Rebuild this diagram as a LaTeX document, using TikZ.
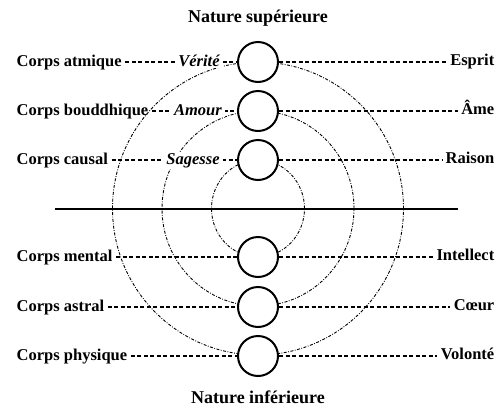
\documentclass[tikz,border=0pt]{standalone}
\usepackage{fontspec}
\setmainfont{Liberation Serif}
\usetikzlibrary{backgrounds}
\begin{document}
\begin{tikzpicture}[x=1pt,y=-1pt,
  ball/.style={circle, draw, line width=2pt, fill=white, minimum size=40pt, inner sep=0pt},
  lab/.style={font=\fontsize{16.5}{18}\selectfont\bfseries, inner xsep=3.5pt, inner ysep=1.5pt},
  quality/.style={font=\fontsize{16.5}{18}\selectfont\bfseries\itshape, fill=white, inner xsep=3pt, inner ysep=1.5pt, anchor=mid},
  link/.style={dash pattern=on 4pt off 2.5pt, line width=1.3pt},
  orbit/.style={line width=0.9pt, dash pattern=on 3pt off 1.5pt on 0.8pt off 1.5pt},
  divider/.style={line width=2.5pt},
  heading/.style={font=\fontsize{18}{20}\selectfont\bfseries, anchor=mid}]
\useasboundingbox (0,0) rectangle (499,413);
\coordinate (O) at (258,208.5);
\coordinate (L) at (55,209);
\coordinate (R) at (458,209);
% circles
\node[ball] (c1) at (258,62) {};
\node[ball] (c2) at (258,111) {};
\node[ball] (c3) at (258,160) {};
\node[ball] (c4) at (258,257) {};
\node[ball] (c5) at (258,307) {};
\node[ball] (c6) at (258,356) {};
% left labels
\node[lab, anchor=mid west] (l1) at (13,64) {Corps atmique};
\node[lab, anchor=mid west] (l2) at (13,113) {Corps bouddhique};
\node[lab, anchor=mid west] (l3) at (13,162) {Corps causal};
\node[lab, anchor=mid west] (l4) at (13,259) {Corps mental};
\node[lab, anchor=mid west] (l5) at (13,309) {Corps astral};
\node[lab, anchor=mid west] (l6) at (13,358) {Corps physique};
% right labels
\node[lab, anchor=mid east] (r1) at (498,63) {Esprit};
\node[lab, anchor=mid east] (r2) at (498,112) {Âme};
\node[lab, anchor=mid east] (r3) at (498,161) {Raison};
\node[lab, anchor=mid east] (r4) at (498,258) {Intellect};
\node[lab, anchor=mid east] (r5) at (498,308) {Cœur};
\node[lab, anchor=mid east] (r6) at (498,357) {Volonté};
% qualities
\node[quality] (q1) at (199,64) {Vérité};
\node[quality] (q2) at (198,113) {Amour};
\node[quality] (q3) at (193,162) {Sagesse};
% headings
\node[heading] (top) at (258,20) {Nature supérieure};
\node[heading] (bottom) at (258,401) {Nature inférieure};
\begin{pgfonlayer}{background}
  \draw[orbit] (O) ellipse [x radius=145.5pt, y radius=146.5pt];
  \draw[orbit] (O) ellipse [x radius=96pt, y radius=97.5pt];
  \draw[orbit] (O) ellipse [x radius=46.5pt, y radius=48.5pt];
  \foreach \i in {1,...,6}{
    \draw[link] (l\i.east |- c\i.west) -- (c\i.west);
    \draw[link] (c\i.east) -- (r\i.west |- c\i.east);
  }
\end{pgfonlayer}
\draw[divider] (L) -- (R);
\end{tikzpicture}
\end{document}
